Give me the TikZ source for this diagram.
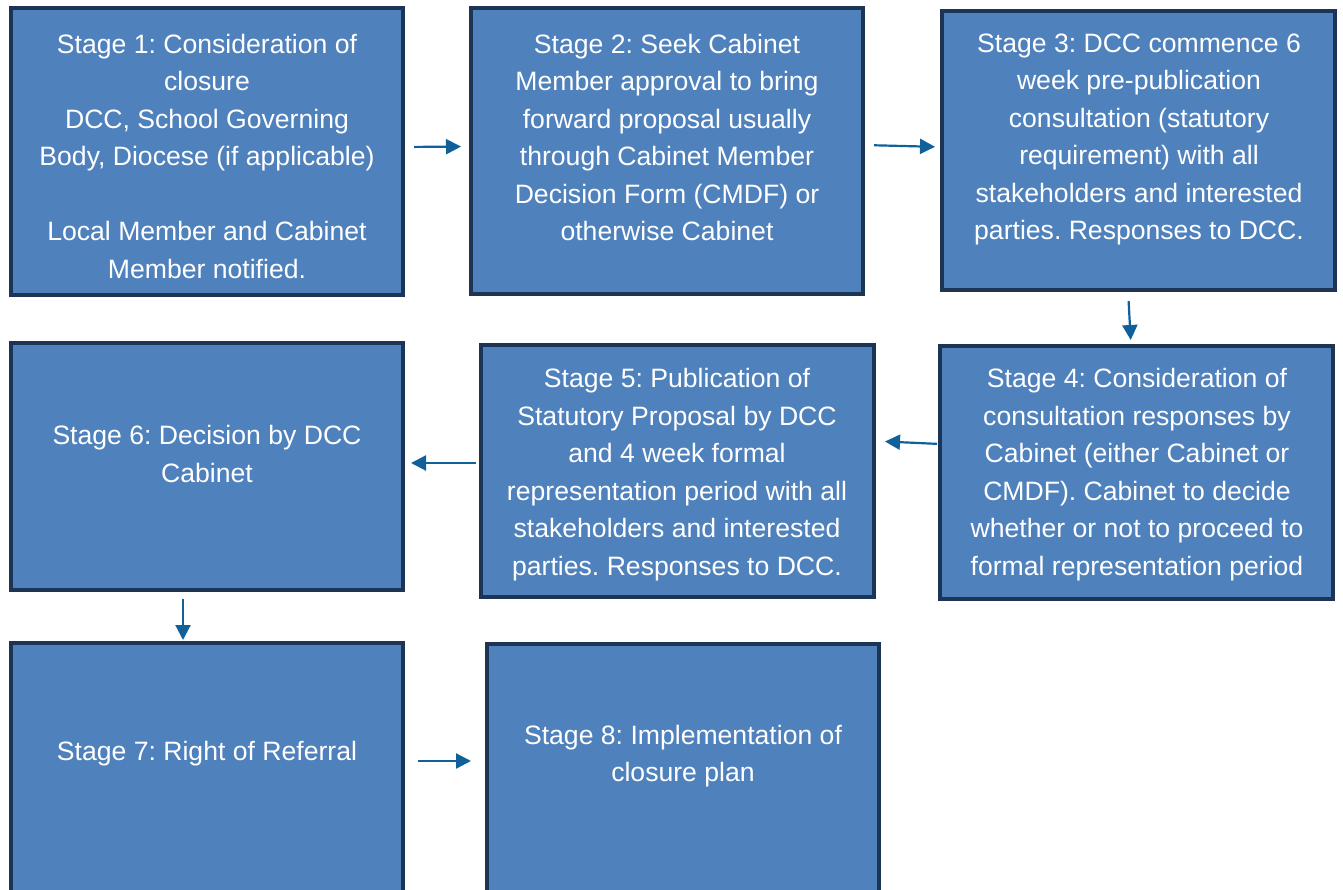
\documentclass[tikz,border=0pt]{standalone}
\usepackage{fontspec}
\setmainfont{Liberation Sans}
\usetikzlibrary{arrows.meta}
\definecolor{boxfill}{HTML}{4F81BD}
\definecolor{boxline}{HTML}{1D3554}
\definecolor{arrcol}{HTML}{10609A}
\tikzset{
  box/.style={draw=boxline, fill=boxfill, line width=4pt, rectangle, inner sep=0pt, outer sep=0pt},
  txt/.style={text=white, align=center, inner sep=0pt, font=\frenchspacing\fontsize{26.6}{37.5}\selectfont},
  arr/.style={draw=arrcol, line width=2.2pt, -{Triangle[length=15pt,width=15pt]}}
}
\begin{document}
\begin{tikzpicture}[x=1pt,y=-1pt]
\useasboundingbox (0,0) rectangle (1343,890);
\fill[white] (0,0) rectangle (1343,890);
\begin{scope}
\clip (0,0) rectangle (1343,890);
\node[box, minimum width=392pt, minimum height=287pt] (b1) at (207,151.5) {};
\node[box, minimum width=392pt, minimum height=286pt] (b2) at (667,151) {};
\node[box, minimum width=393pt, minimum height=279pt] (b3) at (1138.5,150.5) {};
\node[box, minimum width=393pt, minimum height=253pt] (b4) at (1136.5,472.5) {};
\node[box, minimum width=393pt, minimum height=252pt] (b5) at (677.5,471) {};
\node[box, minimum width=392pt, minimum height=247pt] (b6) at (207,466.5) {};
\node[box, minimum width=392pt, minimum height=252pt] (b7) at (207,769) {};
\node[box, minimum width=392pt, minimum height=251pt] (b8) at (683,769.5) {};
\end{scope}

\node[txt] (t1) at (207,156) {Stage 1: Consideration of\\closure\\DCC, School Governing\\Body, Diocese (if applicable)\\[37.5pt]Local Member and Cabinet\\Member notified.};
\node[txt] (t2) at (667,137.5) {Stage 2: Seek Cabinet\\Member approval to bring\\forward proposal usually\\through Cabinet Member\\Decision Form (CMDF) or\\otherwise Cabinet};
\node[txt] (t3) at (1139,139.5) {Stage 3: DCC commence 6\\week pre-publication\\consultation (statutory\\requirement) with all\\stakeholders and interested\\parties. Responses to DCC.};
\node[txt] (t4) at (1137,474.5) {Stage 4: Consideration of\\consultation responses by\\Cabinet (either Cabinet or\\CMDF). Cabinet to decide\\whether or not to proceed to\\formal representation period};
\node[txt] (t5) at (677,474.5) {Stage 5: Publication of\\Statutory Proposal by DCC\\and 4 week formal\\representation period with all\\stakeholders and interested\\parties. Responses to DCC.};
\node[txt] (t6) at (207,454) {Stage 6: Decision by DCC\\Cabinet};
\node[txt] (t7) at (207,753.5) {Stage 7: Right of Referral};
\node[txt] (t8) at (683,756) {Stage 8: Implementation of\\closure plan};

\draw[arr, shorten <=11pt, shorten >=10pt] ([yshift=4.5pt]b1.east) -- ([yshift=4.5pt]b2.west);
\draw[arr, shorten <=11pt, shorten >=7pt] ([yshift=6pt]b2.east) -- ([yshift=3.5pt]b3.west);
\draw[arr, shorten <=11pt, shorten >=6pt] ([xshift=-10.5pt]b3.south) -- ([xshift=-5.5pt]b4.north);
\draw[arr, shorten <=3pt, shorten >=11pt] ([yshift=28.5pt]b4.west) -- ([yshift=30pt]b5.east);
\draw[arr, shorten <=5pt, shorten >=8pt] ([yshift=8pt]b5.west) -- ([yshift=3.5pt]b6.east);
\draw[arr, shorten <=9pt, shorten >=3pt] ([xshift=-24pt]b6.south) -- ([xshift=-24pt]b7.north);
\draw[arr, shorten <=15pt, shorten >=16pt] ([yshift=8pt]b7.east) -- ([yshift=8.5pt]b8.west);
\end{tikzpicture}
\end{document}
